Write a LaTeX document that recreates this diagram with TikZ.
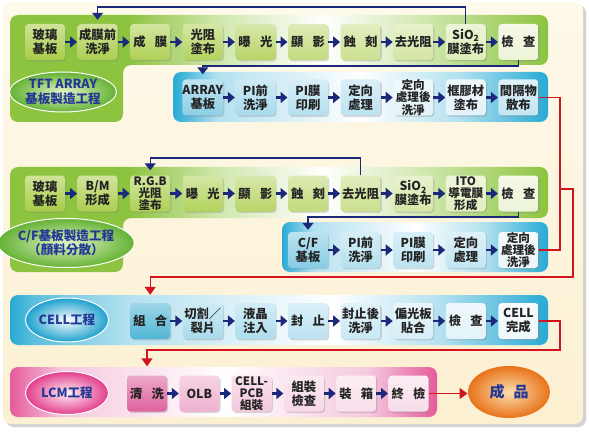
\documentclass[tikz,border=0pt]{standalone}
\usepackage{fontspec}
\setmainfont{Noto Sans CJK TC}
\usetikzlibrary{arrows.meta,shadows,shapes.geometric}

\definecolor{navy}{RGB}{28,40,122}
\definecolor{redc}{RGB}{210,20,30}
\definecolor{txt}{RGB}{35,35,35}
\definecolor{etxt}{RGB}{36,56,150}
\definecolor{cream}{RGB}{252,240,210}
\definecolor{creamL}{RGB}{254,249,234}
\definecolor{bandG}{RGB}{140,196,64}
\definecolor{bandGl}{RGB}{206,230,170}
\definecolor{bandB}{RGB}{40,170,212}
\definecolor{bandBl}{RGB}{180,225,240}
\definecolor{bandBm}{RGB}{90,190,222}
\definecolor{bandP}{RGB}{230,90,155}
\definecolor{bandPl}{RGB}{245,200,222}
\definecolor{gbx}{RGB}{168,204,70}
\definecolor{bbx}{RGB}{120,198,226}
\definecolor{cbx}{RGB}{80,182,214}
\definecolor{pbx}{RGB}{222,98,158}
\definecolor{eG}{RGB}{100,178,52}
\definecolor{eGi}{RGB}{228,244,200}
\definecolor{eB}{RGB}{28,160,205}
\definecolor{eP}{RGB}{226,62,140}
\definecolor{ePi}{RGB}{255,240,246}
\definecolor{eO}{RGB}{232,115,25}
\definecolor{eOi}{RGB}{253,222,175}

\pgfdeclarehorizontalshading{gband}{100bp}{color(0bp)=(bandG); color(36bp)=(bandG); color(44bp)=(bandGl); color(54bp)=(white); color(64bp)=(bandGl); color(75bp)=(bandG); color(100bp)=(bandG)}
\pgfdeclarehorizontalshading{bband}{100bp}{color(0bp)=(bandB); color(25bp)=(bandB); color(31bp)=(bandBl); color(50bp)=(white); color(63bp)=(bandBl); color(75bp)=(bandB); color(100bp)=(bandB)}
\pgfdeclarehorizontalshading{cband}{100bp}{color(0bp)=(bandB); color(25bp)=(bandB); color(27bp)=(bandBm); color(36bp)=(bandBl); color(55bp)=(white); color(65bp)=(bandBl); color(75bp)=(bandB); color(100bp)=(bandB)}
\pgfdeclarehorizontalshading{pband}{100bp}{color(0bp)=(bandP); color(25bp)=(bandP); color(31bp)=(bandPl); color(50bp)=(white); color(67bp)=(bandPl); color(75bp)=(bandP); color(100bp)=(bandP)}

\newcommand\gapp{\hspace{0.75em}}

\tikzset{
  box/.style={rounded corners=3.5pt, minimum width=40pt, minimum height=36pt, inner sep=0pt, align=center, text=txt, font=\bfseries\fontsize{12.3}{14}\selectfont, drop shadow={shadow xshift=1.2pt, shadow yshift=-1.4pt, opacity=.3}},
  bx/.style={box, top color=#1!55!white, bottom color=#1},
  three/.style={font=\bfseries\fontsize{11.6}{12.2}\selectfont},
  flow/.style={draw=navy, line width=2.2pt, -{Triangle[length=7pt,width=11pt]}, shorten >=0.3pt},
  loopc/.style={draw=navy, line width=1.3pt, -{Triangle[length=7pt,width=11pt]}},
  redl/.style={draw=redc, line width=1.4pt},
  reda/.style={redl, -{Triangle[length=8pt,width=11pt]}},
  ell/.style={ellipse, inner sep=0pt, align=center, text=etxt, draw=white, line width=1pt, font=\bfseries\fontsize{12.6}{14.5}\selectfont},
}

\begin{document}
\begin{tikzpicture}[x=1pt,y=-1pt]
\useasboundingbox (0,0) rectangle (589,433);
\fill[white] (0,0) rectangle (589,433);
% panel
\fill[black!35,opacity=.5,rounded corners=8pt] (6,5) rectangle (586,427);
\shade[top color=creamL,bottom color=cream,rounded corners=8pt] (3,2) rectangle (583,424);

% bands
\path[shading=gband,rounded corners=8pt] (10,15) -- (548,15) -- (548,65) -- (123,65) -- (123,122) -- (10,122) -- cycle;
\path[shading=bband,rounded corners=8pt] (173,72) rectangle (548,122);
\path[shading=gband,rounded corners=8pt] (10,167) -- (548,167) -- (548,218) -- (123,218) -- (123,272) -- (10,272) -- cycle;
\path[shading=bband,rounded corners=8pt] (282,222) rectangle (548,272);
\path[shading=cband,rounded corners=8pt] (10,295) rectangle (548,345);
\path[shading=pband,rounded corners=8pt] (10,367) rectangle (437,417);

% ellipses
\node[ell, minimum width=78pt, minimum height=40pt, inner color=eGi, outer color=eG] (tft) at (63,92) {TFT ARRAY\\基板製造工程};
\node[ell, minimum width=103pt, minimum height=49pt, inner color=eGi, outer color=eG] (cf) at (66,243) {C/F基板製造工程\\（顏料分散）};
\node[ell, minimum width=83pt, minimum height=44pt, inner color=white, outer color=eB] (cell) at (67,320) {CELL工程};
\node[ell, minimum width=83pt, minimum height=43pt, inner color=ePi, outer color=eP] (lcm) at (67,393) {LCM工程};
\node[ell, draw=none, minimum width=82pt, minimum height=52pt, inner color=eOi, outer color=eO, font=\bfseries\fontsize{15}{16}\selectfont] (prod) at (509,392) {成\hspace{0.6em}品};

% row 1
\node[bx=gbx] (a1) at (45,42) {玻璃\\基板};
\node[bx=gbx!96!white] (a2) at (97.6,42) {成膜前\\洗淨};
\node[bx=gbx!92!white] (a3) at (150.2,42) {成\gapp 膜};
\node[bx=gbx!88!white] (a4) at (202.8,42) {光阻\\塗布};
\node[bx=gbx!82!white] (a5) at (255.4,42) {曝\gapp 光};
\node[bx=gbx!70!white] (a6) at (308,42) {顯\gapp 影};
\node[bx=gbx!60!white] (a7) at (360.6,42) {蝕\gapp 刻};
\node[bx=gbx!50!white] (a8) at (413.2,42) {去光阻};
\node[bx=gbx!38!white] (a9) at (465.8,42) {SiO\textsubscript{2}\\膜塗布};
\node[bx=gbx!22!white] (a10) at (518.4,42) {檢\gapp 查};

% row 2
\node[bx=bbx!85!white] (b4) at (202.8,97.5) {ARRAY\\基板};
\node[bx=bbx!65!white] (b5) at (255.4,97.5) {PI前\\洗淨};
\node[bx=bbx!55!white] (b6) at (308,97.5) {PI膜\\印刷};
\node[bx=bbx!50!white] (b7) at (360.6,97.5) {定向\\處理};
\node[bx=bbx!22!white,three] (b8) at (413.2,97.5) {定向\\處理後\\洗淨};
\node[bx=bbx!22!white] (b9) at (465.8,97.5) {框膠材\\塗布};
\node[bx=bbx!45!white] (b10) at (518.4,97.5) {間隔物\\散布};

% row 3
\node[bx=gbx] (c1) at (45,193.5) {玻璃\\基板};
\node[bx=gbx!96!white] (c2) at (97.6,193.5) {B/M\\形成};
\node[bx=gbx!92!white,three] (c3) at (150.2,193.5) {R.G.B\\光阻\\塗布};
\node[bx=gbx!88!white] (c4) at (202.8,193.5) {曝\gapp 光};
\node[bx=gbx!82!white] (c5) at (255.4,193.5) {顯\gapp 影};
\node[bx=gbx!72!white] (c6) at (308,193.5) {蝕\gapp 刻};
\node[bx=gbx!62!white] (c7) at (360.6,193.5) {去光阻};
\node[bx=gbx!48!white] (c8) at (413.2,193.5) {SiO\textsubscript{2}\\膜塗布};
\node[bx=gbx!35!white,three] (c9) at (465.8,193.5) {ITO\\導電膜\\形成};
\node[bx=gbx!22!white] (c10) at (518.4,193.5) {檢\gapp 查};

% row 4
\node[bx=bbx!90!white] (d6) at (308,250) {C/F\\基板};
\node[bx=bbx!55!white] (d7) at (360.6,250) {PI前\\洗淨};
\node[bx=bbx!50!white] (d8) at (413.2,250) {PI膜\\印刷};
\node[bx=bbx!45!white] (d9) at (465.8,250) {定向\\處理};
\node[bx=bbx!15!white,three] (d10) at (518.4,250) {定向\\處理後\\洗淨};

% row 5
\node[bx=cbx] (e3) at (150.2,321) {組\gapp 合};
\node[bx=bbx!65!white] (e4) at (202.8,321) {切割／\\裂片};
\node[bx=bbx!60!white] (e5) at (255.4,321) {液晶\\注入};
\node[bx=bbx!50!white] (e6) at (308,321) {封\gapp 止};
\node[bx=bbx!40!white] (e7) at (360.6,321) {封止後\\洗淨};
\node[bx=bbx!30!white] (e8) at (413.2,321) {偏光板\\貼合};
\node[bx=bbx!22!white] (e9) at (465.8,321) {檢\gapp 查};
\node[bx=bbx!12!white] (e10) at (518.4,321) {CELL\\完成};

% row 6
\node[bx=pbx] (f1) at (147,393.5) {清\gapp 洗};
\node[bx=pbx!50!white] (f2) at (199.3,393.5) {OLB};
\node[bx=pbx!35!white,three] (f3) at (251.6,393.5) {CELL-\\PCB\\組裝};
\node[bx=pbx!25!white] (f4) at (303.9,393.5) {組裝\\檢查};
\node[bx=pbx!20!white] (f5) at (356.2,393.5) {裝\gapp 箱};
\node[bx=pbx!22!white] (f6) at (408.5,393.5) {終\gapp 檢};

% flow arrows
\foreach \p/\q in {a1/a2,a2/a3,a3/a4,a4/a5,a5/a6,a6/a7,a7/a8,a8/a9,a9/a10,
  b4/b5,b5/b6,b6/b7,b7/b8,b8/b9,b9/b10,
  c1/c2,c2/c3,c3/c4,c4/c5,c5/c6,c6/c7,c7/c8,c8/c9,c9/c10,
  d6/d7,d7/d8,d8/d9,d9/d10,
  e3/e4,e4/e5,e5/e6,e6/e7,e7/e8,e8/e9,e9/e10,
  f1/f2,f2/f3,f3/f4,f4/f5,f5/f6}
  \draw[flow] (\p) -- (\q);

% navy loops
\coordinate (l1) at (465.8,7);
\draw[loopc, shorten >=4pt] (a9.north) -- (l1) -| (a2.north);
\coordinate (l2) at (518.4,66);
\draw[loopc, shorten >=5pt] (a10.south) -- (l2) -| (b4.north);
\coordinate (l3) at (360.6,158);
\draw[loopc, shorten >=5pt] (c7.north) -- (l3) -| (c3.north);
\coordinate (l4) at (518.4,217);
\draw[loopc, shorten >=2pt] (c10.south) -- (l4) -| (d6.north);

% red connectors
\coordinate (rj) at (560,189);
\coordinate (rk) at (573,189);
\coordinate (rl) at (150.2,277);
\draw[redl] (b10.east) -| (rj);
\draw[redl] (d10.east) -| (rj);
\draw[reda, shorten >=8pt] (rj) -- (rk) |- (rl) -- (e3.north);
\coordinate (rm) at (560,350);
\coordinate (rn) at (147,350);
\draw[reda, shorten >=9pt] (e10.east) -| (rm) -- (rn) -- (f1.north);
\draw[reda] (f6.east) -- (prod.west |- f6.east);
\end{tikzpicture}
\end{document}
